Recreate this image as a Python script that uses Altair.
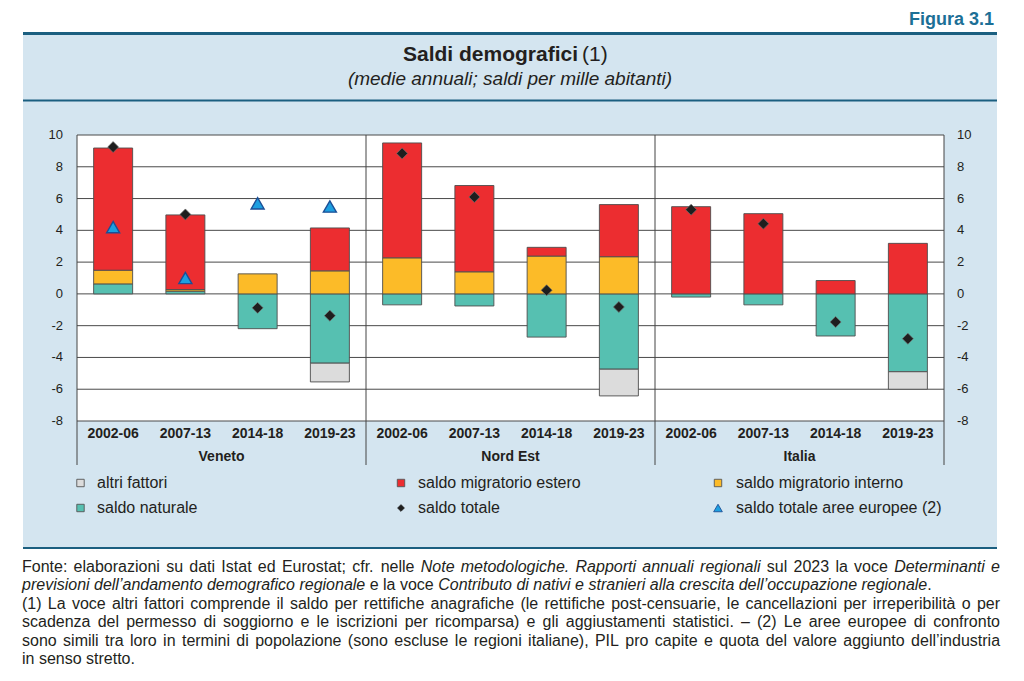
import altair as alt
import pandas as pd

# ---------------- data ----------------
regions = ["Veneto", "Nord Est", "Italia"]
periods = ["2002-06", "2007-13", "2014-18", "2019-23"]

series_names = ["saldo naturale", "saldo migratorio interno", "saldo migratorio estero", "altri fattori"]
series_colors = ["#56c0b1", "#fcbb28", "#ec2d30", "#dcdcdc"]

naturale = {"Veneto": [0.63, 0.17, -2.19, -4.36],
            "Nord Est": [-0.69, -0.76, -2.72, -4.74],
            "Italia": [-0.20, -0.69, -2.65, -4.90]}
interno = {"Veneto": [0.86, 0.10, 1.26, 1.45],
           "Nord Est": [2.27, 1.39, 2.38, 2.34],
           "Italia": [0, 0, 0, 0]}
estero = {"Veneto": [7.69, 4.70, 0, 2.70],
          "Nord Est": [7.23, 5.43, 0.55, 3.28],
          "Italia": [5.49, 5.05, 0.84, 3.18]}
altri = {"Veneto": [0, 0, 0, -1.18],
         "Nord Est": [0, 0, 0, -1.68],
         "Italia": [0, 0, 0, -1.10]}
totale = {"Veneto": [9.24, 5.00, -0.88, -1.37],
          "Nord Est": [8.84, 6.10, 0.23, -0.82],
          "Italia": [5.30, 4.42, -1.77, -2.82]}
aree_europee_veneto = [4.2, 1.0, 5.7, 5.5]

y_ticks = [-8, -6, -4, -2, 0, 2, 4, 6, 8, 10]
y_tick_labels = ["-8", "-6", "-4", "-2", "0", "2", "4", "6", "8", "10"]

legend_labels = ["altri fattori", "saldo migratorio estero", "saldo migratorio interno",
                 "saldo naturale", "saldo totale", "saldo totale aree europee (2)"]
legend_shapes = ["square", "square", "square", "square", "diamond", "triangle-up"]
legend_fills = ["#dcdcdc", "#ec2d30", "#fcbb28", "#56c0b1", "#1e1e1e", "#1d9fe0"]
legend_strokes = ["#555555", "#555555", "#555555", "#555555", "#1e1e1e", "#1c4f96"]
legend_sizes = [55, 55, 55, 55, 45, 75]

# footer lines; *...* marks italic text; flag = justified line
footer_lines = [
    ("Fonte: elaborazioni su dati Istat ed Eurostat; cfr. nelle *Note metodologiche. Rapporti annuali regionali* sul 2023 la voce *Determinanti e*", True),
    ("*previsioni dell\u2019andamento demografico regionale* e la voce *Contributo di nativi e stranieri alla crescita dell\u2019occupazione regionale*.", False),
    ("(1) La voce altri fattori comprende il saldo per rettifiche anagrafiche (le rettifiche post-censuarie, le cancellazioni per irreperibilit\u00e0 o per", True),
    ("scadenza del permesso di soggiorno e le iscrizioni per ricomparsa) e gli aggiustamenti statistici. \u2013 (2) Le aree europee di confronto", True),
    ("sono simili tra loro in termini di popolazione (sono escluse le regioni italiane), PIL pro capite e quota del valore aggiunto dell\u2019industria", True),
    ("in senso stretto.", False),
]

# ---------------- tables ----------------
keys = [f"{r}|{p}" for r in regions for p in periods]
rows = []
for r in regions:
    for i, p in enumerate(periods):
        for j, src in enumerate([naturale, interno, estero, altri]):
            v = src[r][i]
            if v != 0:
                rows.append({"key": f"{r}|{p}", "serie": series_names[j], "valore": v, "ord": j})
bars_df = pd.DataFrame(rows)

tot_df = pd.DataFrame([{"key": f"{r}|{p}", "valore": totale[r][i]}
                       for r in regions for i, p in enumerate(periods)])
eu_df = pd.DataFrame([{"key": f"Veneto|{p}", "valore": aree_europee_veneto[i]}
                      for i, p in enumerate(periods)])
lab_df = pd.DataFrame([{"key": f"{r}|{p}", "periodo": p} for r in regions for p in periods])
reg_df = pd.DataFrame([{"key": f"{r}|{periods[2]}", "regione": r} for r in regions])
div_df = pd.DataFrame([{"key": f"{r}|{periods[0]}"} for r in regions])
end_df = pd.DataFrame([{"key": f"{regions[-1]}|{periods[-1]}"}])
tick_df = pd.DataFrame({"t": y_ticks, "lab": y_tick_labels})
one = pd.DataFrame({"d": [0]})

W, H = 867, 286
FONT = "Liberation Sans, Arial, Helvetica, sans-serif"
TXT = "#231f20"
BLUE_BG = "#d4e5f0"
DARK = "#1b5f80"

# ---- footer word layout (Arial / Liberation Sans advance widths, 1/1000 em) ----
AW = dict(zip("abcdefghijklmnopqrstuvwxyz",
              [556, 556, 500, 556, 556, 278, 556, 556, 222, 222, 500, 222, 833, 556, 556, 556, 556,
               333, 500, 278, 556, 500, 722, 500, 500, 500]))
AW.update(dict(zip("ABCDEFGHIJKLMNOPQRSTUVWXYZ",
                   [667, 667, 722, 722, 667, 611, 778, 722, 278, 500, 667, 556, 833, 722, 778, 667,
                    778, 722, 667, 611, 722, 667, 944, 667, 667, 611])))
AW.update({c: 556 for c in "0123456789"})
AW.update({" ": 278, ".": 278, ",": 278, ":": 278, ";": 278, "(": 333, ")": 333, "-": 333,
           "\u2019": 222, "\u2013": 556, "\u00e0": 556})
FS = 16.0
X0, TARGET = -55, 978
LINE_Y = [432, 450, 469, 487, 506, 524]


def tw(s):
    return sum(AW.get(ch, 556) for ch in s) * FS / 1000.0


words = []
italic = False
for (line, just), y in zip(footer_lines, LINE_Y):
    items = []
    for w in line.split(" "):
        pieces, buf = [], ""
        for ch in w:
            if ch == "*":
                if buf:
                    pieces.append((buf, italic))
                    buf = ""
                italic = not italic
            else:
                buf += ch
        if buf:
            pieces.append((buf, italic))
        items.append(pieces)
    widths = [sum(tw(t) for t, _ in p) for p in items]
    sp = tw(" ")
    natural = sum(widths) + sp * (len(items) - 1)
    gap = sp + ((TARGET - natural) / (len(items) - 1) if just and len(items) > 1 else 0)
    x = X0
    for p, wd in zip(items, widths):
        xx = x
        for t, it in p:
            words.append({"x": xx, "y": y, "t": t, "it": it})
            xx += tw(t)
        x += wd + gap
words_df = pd.DataFrame(words)

xscale = alt.Scale(type="band", domain=keys, paddingInner=0, paddingOuter=0)
yscale = alt.Scale(domain=[-8, 10], nice=False, zero=False)

layers = []


def box(x1, x2, y1, y2, color):
    return alt.Chart(one).mark_rect(fill=color).encode(
        x=alt.value(x1), x2=alt.value(x2), y=alt.value(y1), y2=alt.value(y2))


def label(x, y, text, size, weight="normal", style="normal", align="left", color=TXT):
    return alt.Chart(one).mark_text(text=text, font=FONT, fontSize=size, fontWeight=weight,
                                    fontStyle=style, align=align, baseline="middle",
                                    color=color).encode(x=alt.value(x), y=alt.value(y))


# background panel, plot area, frame lines
layers.append(box(-54, 920, -102, 413, BLUE_BG))
layers.append(box(0, W, 0, H, "white"))
layers.append(box(-54, 920, -103, -100, DARK))
layers.append(box(-54, 920, -35.5, -33.5, DARK))
layers.append(box(-54, 920, 412, 414, DARK))

# titles
layers.append(label(917, -115, "Figura 3.1", 18, weight="bold", align="right", color="#1c6f96"))
layers.append(label(501, -80, "Saldi demografici", 21, weight="bold", align="right"))
layers.append(label(505, -80, "(1)", 21, align="left"))
layers.append(label(433, -56, "(medie annuali; saldi per mille abitanti)", 19, style="italic", align="center"))

# grid
layers.append(alt.Chart(tick_df).mark_rule(color="#4a4a4a", strokeWidth=1).encode(
    y=alt.Y("t:Q", scale=yscale, axis=None), x=alt.value(0), x2=alt.value(W)))

# bars
layers.append(alt.Chart(bars_df).mark_bar(size=39, stroke="#4d4d4d", strokeWidth=0.9).encode(
    x=alt.X("key:N", scale=xscale, axis=None),
    y=alt.Y("valore:Q", stack="zero", scale=yscale, axis=None),
    color=alt.Color("serie:N", scale=alt.Scale(domain=series_names, range=series_colors), legend=None),
    order=alt.Order("ord:Q", sort="ascending")))

# vertical dividers
layers.append(alt.Chart(div_df).mark_rule(color="#444444", strokeWidth=1).encode(
    x=alt.X("key:N", scale=xscale, axis=None, bandPosition=0), y=alt.value(0), y2=alt.value(330)))
layers.append(alt.Chart(end_df).mark_rule(color="#444444", strokeWidth=1).encode(
    x=alt.X("key:N", scale=xscale, axis=None, bandPosition=1), y=alt.value(0), y2=alt.value(330)))

# points
layers.append(alt.Chart(tot_df).mark_point(shape="diamond", filled=True, fill="#1e1e1e", stroke="#707070",
                                           strokeWidth=0.7, size=120, opacity=1).encode(
    x=alt.X("key:N", scale=xscale, axis=None), y=alt.Y("valore:Q", scale=yscale, axis=None)))
layers.append(alt.Chart(eu_df).mark_point(shape="triangle-up", filled=True, fill="#1d9fe0", stroke="#1c4f96",
                                          strokeWidth=1.4, size=170, opacity=1).encode(
    x=alt.X("key:N", scale=xscale, axis=None), y=alt.Y("valore:Q", scale=yscale, axis=None)))

# axis labels
layers.append(alt.Chart(tick_df).mark_text(font=FONT, fontSize=13, align="right", baseline="middle", color=TXT).encode(
    y=alt.Y("t:Q", scale=yscale, axis=None), x=alt.value(-14), text="lab:N"))
layers.append(alt.Chart(tick_df).mark_text(font=FONT, fontSize=13, align="left", baseline="middle", color=TXT).encode(
    y=alt.Y("t:Q", scale=yscale, axis=None), x=alt.value(880), text="lab:N"))
layers.append(alt.Chart(lab_df).mark_text(font=FONT, fontSize=14, fontWeight="bold", baseline="middle", color=TXT).encode(
    x=alt.X("key:N", scale=xscale, axis=None), y=alt.value(299), text="periodo:N"))
layers.append(alt.Chart(reg_df).mark_text(font=FONT, fontSize=14, fontWeight="bold", baseline="middle", color=TXT).encode(
    x=alt.X("key:N", scale=xscale, axis=None, bandPosition=0), y=alt.value(322), text="regione:N"))

# legend
col_sym = [3.5, 324, 641]
col_txt = [20, 341, 659]
row_y = [348, 373]
for i, lab in enumerate(legend_labels):
    c, r = i % 3, i // 3
    layers.append(alt.Chart(one).mark_point(shape=legend_shapes[i], filled=True, fill=legend_fills[i],
                                            stroke=legend_strokes[i], strokeWidth=0.9,
                                            size=legend_sizes[i], opacity=1).encode(
        x=alt.value(col_sym[c]), y=alt.value(row_y[r])))
    layers.append(label(col_txt[c], row_y[r], lab, 16))

# footer (word-positioned, justified lines)
for it_flag, style in [(False, "normal"), (True, "italic")]:
    layers.append(alt.Chart(words_df[words_df["it"] == it_flag]).mark_text(
        font=FONT, fontSize=FS, fontStyle=style, align="left", baseline="middle", color=TXT).encode(
        x=alt.X("x:Q", scale=None, axis=None), y=alt.Y("y:Q", scale=None, axis=None), text="t:N"))

chart = alt.layer(*layers).resolve_scale(x="independent", y="independent").properties(
    width=W, height=H,
    padding={"left": 69, "top": 127, "right": 72, "bottom": 252},
    autosize=alt.AutoSizeParams(type="none"),
    background="white",
).configure_view(strokeWidth=0)

chart.save("out.html", embed_options={"renderer": "svg", "actions": False})
